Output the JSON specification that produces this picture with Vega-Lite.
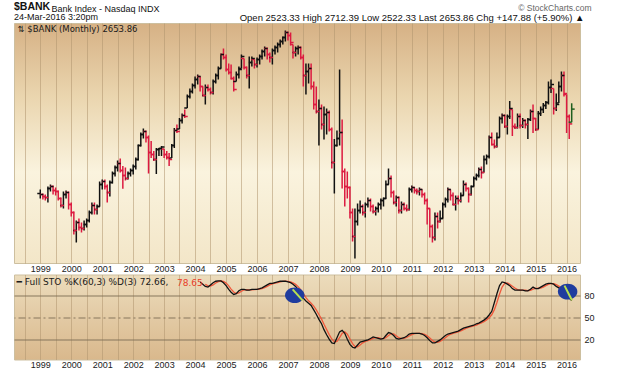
{
"$schema":"https://vega.github.io/schema/vega-lite/v6.json",
"background":"#ffffff",
"padding":{"left":13,"top":1,"right":0,"bottom":0},
"datasets":{
"px":[
{"d":"1999-01-01","o":1810,"h":1850,"l":1760,"c":1800,"dir":"up"},
{"d":"1999-02-01","o":1800,"h":1810,"l":1750,"c":1780,"dir":"down"},
{"d":"1999-03-01","o":1780,"h":1800,"l":1740,"c":1770,"dir":"down"},
{"d":"1999-04-01","o":1770,"h":1880,"l":1720,"c":1860,"dir":"up"},
{"d":"1999-05-01","o":1860,"h":1900,"l":1830,"c":1880,"dir":"up"},
{"d":"1999-06-01","o":1880,"h":1890,"l":1800,"c":1840,"dir":"down"},
{"d":"1999-07-01","o":1840,"h":1870,"l":1790,"c":1830,"dir":"down"},
{"d":"1999-08-01","o":1830,"h":1840,"l":1740,"c":1760,"dir":"down"},
{"d":"1999-09-01","o":1760,"h":1770,"l":1670,"c":1690,"dir":"down"},
{"d":"1999-10-01","o":1690,"h":1830,"l":1660,"c":1800,"dir":"up"},
{"d":"1999-11-01","o":1800,"h":1840,"l":1760,"c":1820,"dir":"up"},
{"d":"1999-12-01","o":1820,"h":1830,"l":1650,"c":1700,"dir":"down"},
{"d":"2000-01-01","o":1700,"h":1720,"l":1580,"c":1620,"dir":"down"},
{"d":"2000-02-01","o":1620,"h":1630,"l":1400,"c":1440,"dir":"down"},
{"d":"2000-03-01","o":1440,"h":1540,"l":1320,"c":1520,"dir":"up"},
{"d":"2000-04-01","o":1520,"h":1560,"l":1440,"c":1470,"dir":"down"},
{"d":"2000-05-01","o":1470,"h":1520,"l":1420,"c":1460,"dir":"down"},
{"d":"2000-06-01","o":1460,"h":1540,"l":1440,"c":1500,"dir":"up"},
{"d":"2000-07-01","o":1500,"h":1560,"l":1470,"c":1540,"dir":"up"},
{"d":"2000-08-01","o":1540,"h":1640,"l":1520,"c":1620,"dir":"up"},
{"d":"2000-09-01","o":1620,"h":1720,"l":1600,"c":1690,"dir":"up"},
{"d":"2000-10-01","o":1690,"h":1720,"l":1600,"c":1650,"dir":"down"},
{"d":"2000-11-01","o":1650,"h":1700,"l":1600,"c":1680,"dir":"up"},
{"d":"2000-12-01","o":1680,"h":1930,"l":1680,"c":1900,"dir":"up"},
{"d":"2001-01-01","o":1900,"h":1950,"l":1850,"c":1930,"dir":"up"},
{"d":"2001-02-01","o":1930,"h":1950,"l":1850,"c":1880,"dir":"down"},
{"d":"2001-03-01","o":1880,"h":1900,"l":1720,"c":1820,"dir":"down"},
{"d":"2001-04-01","o":1820,"h":1940,"l":1780,"c":1920,"dir":"up"},
{"d":"2001-05-01","o":1920,"h":2030,"l":1910,"c":2010,"dir":"up"},
{"d":"2001-06-01","o":2010,"h":2090,"l":1980,"c":2070,"dir":"up"},
{"d":"2001-07-01","o":2070,"h":2140,"l":2030,"c":2110,"dir":"up"},
{"d":"2001-08-01","o":2110,"h":2160,"l":2020,"c":2040,"dir":"down"},
{"d":"2001-09-01","o":2040,"h":2085,"l":1857,"c":1990,"dir":"down"},
{"d":"2001-10-01","o":1990,"h":2070,"l":1940,"c":1960,"dir":"down"},
{"d":"2001-11-01","o":1960,"h":2030,"l":1950,"c":2010,"dir":"up"},
{"d":"2001-12-01","o":2010,"h":2060,"l":1980,"c":2040,"dir":"up"},
{"d":"2002-01-01","o":2040,"h":2100,"l":2000,"c":2080,"dir":"up"},
{"d":"2002-02-01","o":2080,"h":2170,"l":2050,"c":2150,"dir":"up"},
{"d":"2002-03-01","o":2150,"h":2300,"l":2140,"c":2290,"dir":"up"},
{"d":"2002-04-01","o":2290,"h":2420,"l":2280,"c":2400,"dir":"up"},
{"d":"2002-05-01","o":2400,"h":2460,"l":2360,"c":2430,"dir":"up"},
{"d":"2002-06-01","o":2430,"h":2440,"l":2320,"c":2370,"dir":"down"},
{"d":"2002-07-01","o":2370,"h":2390,"l":2010,"c":2220,"dir":"down"},
{"d":"2002-08-01","o":2220,"h":2335,"l":2165,"c":2200,"dir":"down"},
{"d":"2002-09-01","o":2200,"h":2235,"l":2135,"c":2150,"dir":"down"},
{"d":"2002-10-01","o":2150,"h":2265,"l":2005,"c":2250,"dir":"up"},
{"d":"2002-11-01","o":2250,"h":2265,"l":2185,"c":2260,"dir":"up"},
{"d":"2002-12-01","o":2260,"h":2285,"l":2185,"c":2275,"dir":"up"},
{"d":"2003-01-01","o":2255,"h":2255,"l":2165,"c":2200,"dir":"down"},
{"d":"2003-02-01","o":2200,"h":2235,"l":2150,"c":2170,"dir":"down"},
{"d":"2003-03-01","o":2170,"h":2215,"l":2085,"c":2150,"dir":"down"},
{"d":"2003-04-01","o":2165,"h":2305,"l":2165,"c":2290,"dir":"up"},
{"d":"2003-05-01","o":2290,"h":2465,"l":2265,"c":2440,"dir":"up"},
{"d":"2003-06-01","o":2440,"h":2500,"l":2415,"c":2430,"dir":"down"},
{"d":"2003-07-01","o":2455,"h":2565,"l":2455,"c":2540,"dir":"up"},
{"d":"2003-08-01","o":2540,"h":2610,"l":2510,"c":2590,"dir":"up"},
{"d":"2003-09-01","o":2590,"h":2650,"l":2565,"c":2580,"dir":"down"},
{"d":"2003-10-01","o":2665,"h":2800,"l":2665,"c":2780,"dir":"up"},
{"d":"2003-11-01","o":2780,"h":2860,"l":2760,"c":2830,"dir":"up"},
{"d":"2003-12-01","o":2830,"h":2910,"l":2810,"c":2890,"dir":"up"},
{"d":"2004-01-01","o":2890,"h":2980,"l":2860,"c":2950,"dir":"up"},
{"d":"2004-02-01","o":2950,"h":3000,"l":2900,"c":2980,"dir":"up"},
{"d":"2004-03-01","o":2980,"h":2980,"l":2830,"c":2880,"dir":"down"},
{"d":"2004-04-01","o":2880,"h":2880,"l":2780,"c":2790,"dir":"down"},
{"d":"2004-05-01","o":2790,"h":2900,"l":2700,"c":2870,"dir":"up"},
{"d":"2004-06-01","o":2870,"h":2900,"l":2830,"c":2850,"dir":"down"},
{"d":"2004-07-01","o":2850,"h":2870,"l":2800,"c":2820,"dir":"down"},
{"d":"2004-08-01","o":2820,"h":2950,"l":2800,"c":2930,"dir":"up"},
{"d":"2004-09-01","o":2930,"h":3010,"l":2910,"c":2990,"dir":"up"},
{"d":"2004-10-01","o":2990,"h":3080,"l":2950,"c":3060,"dir":"up"},
{"d":"2004-11-01","o":3060,"h":3210,"l":3060,"c":3200,"dir":"up"},
{"d":"2004-12-01","o":3200,"h":3260,"l":3150,"c":3170,"dir":"down"},
{"d":"2005-01-01","o":3170,"h":3200,"l":3030,"c":3050,"dir":"down"},
{"d":"2005-02-01","o":3050,"h":3110,"l":3000,"c":3020,"dir":"down"},
{"d":"2005-03-01","o":3020,"h":3100,"l":2950,"c":2960,"dir":"down"},
{"d":"2005-04-01","o":2960,"h":2980,"l":2830,"c":2850,"dir":"down"},
{"d":"2005-05-01","o":2930,"h":3030,"l":2930,"c":3000,"dir":"up"},
{"d":"2005-06-01","o":3000,"h":3080,"l":2960,"c":3050,"dir":"up"},
{"d":"2005-07-01","o":3060,"h":3200,"l":3060,"c":3180,"dir":"up"},
{"d":"2005-08-01","o":3160,"h":3160,"l":3050,"c":3070,"dir":"down"},
{"d":"2005-09-01","o":3070,"h":3080,"l":2960,"c":2990,"dir":"down"},
{"d":"2005-10-01","o":2990,"h":3180,"l":2860,"c":3120,"dir":"up"},
{"d":"2005-11-01","o":3120,"h":3180,"l":3080,"c":3160,"dir":"up"},
{"d":"2005-12-01","o":3150,"h":3150,"l":3060,"c":3100,"dir":"down"},
{"d":"2006-01-01","o":3100,"h":3170,"l":3070,"c":3150,"dir":"up"},
{"d":"2006-02-01","o":3150,"h":3200,"l":3100,"c":3180,"dir":"up"},
{"d":"2006-03-01","o":3180,"h":3250,"l":3150,"c":3230,"dir":"up"},
{"d":"2006-04-01","o":3230,"h":3280,"l":3180,"c":3260,"dir":"up"},
{"d":"2006-05-01","o":3260,"h":3270,"l":3150,"c":3200,"dir":"down"},
{"d":"2006-06-01","o":3200,"h":3220,"l":3120,"c":3170,"dir":"down"},
{"d":"2006-07-01","o":3170,"h":3260,"l":3100,"c":3240,"dir":"up"},
{"d":"2006-08-01","o":3240,"h":3290,"l":3200,"c":3270,"dir":"up"},
{"d":"2006-09-01","o":3270,"h":3320,"l":3220,"c":3300,"dir":"up"},
{"d":"2006-10-01","o":3300,"h":3350,"l":3270,"c":3330,"dir":"up"},
{"d":"2006-11-01","o":3330,"h":3380,"l":3300,"c":3370,"dir":"up"},
{"d":"2006-12-01","o":3370,"h":3440,"l":3330,"c":3420,"dir":"up"},
{"d":"2007-01-01","o":3420,"h":3430,"l":3340,"c":3390,"dir":"down"},
{"d":"2007-02-01","o":3390,"h":3420,"l":3290,"c":3320,"dir":"down"},
{"d":"2007-03-01","o":3300,"h":3300,"l":3160,"c":3220,"dir":"down"},
{"d":"2007-04-01","o":3220,"h":3280,"l":3180,"c":3260,"dir":"up"},
{"d":"2007-05-01","o":3260,"h":3290,"l":3200,"c":3270,"dir":"up"},
{"d":"2007-06-01","o":3270,"h":3280,"l":3150,"c":3170,"dir":"down"},
{"d":"2007-07-01","o":3170,"h":3200,"l":2880,"c":2990,"dir":"down"},
{"d":"2007-08-01","o":2990,"h":3110,"l":2800,"c":3030,"dir":"up"},
{"d":"2007-09-01","o":3030,"h":3110,"l":2910,"c":3060,"dir":"up"},
{"d":"2007-10-01","o":3060,"h":3110,"l":2850,"c":2880,"dir":"down"},
{"d":"2007-11-01","o":2880,"h":2930,"l":2650,"c":2700,"dir":"down"},
{"d":"2007-12-01","o":2700,"h":2880,"l":2610,"c":2630,"dir":"down"},
{"d":"2008-01-01","o":2630,"h":2750,"l":2290,"c":2660,"dir":"up"},
{"d":"2008-02-01","o":2660,"h":2700,"l":2450,"c":2500,"dir":"down"},
{"d":"2008-03-01","o":2500,"h":2680,"l":2350,"c":2600,"dir":"up"},
{"d":"2008-04-01","o":2600,"h":2660,"l":2400,"c":2620,"dir":"up"},
{"d":"2008-05-01","o":2620,"h":2640,"l":2430,"c":2450,"dir":"down"},
{"d":"2008-06-01","o":2450,"h":2470,"l":2060,"c":2120,"dir":"down"},
{"d":"2008-07-01","o":2120,"h":2355,"l":1810,"c":2290,"dir":"up"},
{"d":"2008-08-01","o":2290,"h":2440,"l":2280,"c":2360,"dir":"up"},
{"d":"2008-09-01","o":2360,"h":3050,"l":2290,"c":2420,"dir":"up"},
{"d":"2008-10-01","o":2420,"h":2550,"l":1860,"c":2030,"dir":"down"},
{"d":"2008-11-01","o":2030,"h":2060,"l":1680,"c":1880,"dir":"down"},
{"d":"2008-12-01","o":1880,"h":2030,"l":1760,"c":1870,"dir":"down"},
{"d":"2009-01-01","o":1870,"h":1880,"l":1560,"c":1620,"dir":"down"},
{"d":"2009-02-01","o":1620,"h":1660,"l":1330,"c":1380,"dir":"down"},
{"d":"2009-03-01","o":1380,"h":1660,"l":1160,"c":1530,"dir":"up"},
{"d":"2009-04-01","o":1530,"h":1710,"l":1490,"c":1640,"dir":"up"},
{"d":"2009-05-01","o":1640,"h":1740,"l":1610,"c":1680,"dir":"up"},
{"d":"2009-06-01","o":1680,"h":1700,"l":1590,"c":1620,"dir":"down"},
{"d":"2009-07-01","o":1620,"h":1720,"l":1570,"c":1700,"dir":"up"},
{"d":"2009-08-01","o":1700,"h":1770,"l":1670,"c":1740,"dir":"up"},
{"d":"2009-09-01","o":1740,"h":1760,"l":1630,"c":1680,"dir":"down"},
{"d":"2009-10-01","o":1680,"h":1700,"l":1610,"c":1630,"dir":"down"},
{"d":"2009-11-01","o":1630,"h":1680,"l":1590,"c":1660,"dir":"up"},
{"d":"2009-12-01","o":1660,"h":1720,"l":1620,"c":1700,"dir":"up"},
{"d":"2010-01-01","o":1700,"h":1760,"l":1650,"c":1740,"dir":"up"},
{"d":"2010-02-01","o":1740,"h":1770,"l":1680,"c":1760,"dir":"up"},
{"d":"2010-03-01","o":1760,"h":1940,"l":1760,"c":1900,"dir":"up"},
{"d":"2010-04-01","o":1900,"h":2060,"l":1900,"c":1960,"dir":"up"},
{"d":"2010-05-01","o":1960,"h":1990,"l":1770,"c":1820,"dir":"down"},
{"d":"2010-06-01","o":1820,"h":1840,"l":1700,"c":1720,"dir":"down"},
{"d":"2010-07-01","o":1720,"h":1790,"l":1680,"c":1770,"dir":"up"},
{"d":"2010-08-01","o":1770,"h":1780,"l":1610,"c":1640,"dir":"down"},
{"d":"2010-09-01","o":1640,"h":1730,"l":1610,"c":1700,"dir":"up"},
{"d":"2010-10-01","o":1700,"h":1720,"l":1640,"c":1660,"dir":"down"},
{"d":"2010-11-01","o":1660,"h":1700,"l":1630,"c":1650,"dir":"down"},
{"d":"2010-12-01","o":1650,"h":1870,"l":1640,"c":1850,"dir":"up"},
{"d":"2011-01-01","o":1850,"h":1890,"l":1820,"c":1870,"dir":"up"},
{"d":"2011-02-01","o":1870,"h":1870,"l":1810,"c":1840,"dir":"down"},
{"d":"2011-03-01","o":1840,"h":1860,"l":1800,"c":1830,"dir":"down"},
{"d":"2011-04-01","o":1830,"h":1870,"l":1790,"c":1850,"dir":"up"},
{"d":"2011-05-01","o":1850,"h":1850,"l":1770,"c":1800,"dir":"down"},
{"d":"2011-06-01","o":1800,"h":1820,"l":1700,"c":1740,"dir":"down"},
{"d":"2011-07-01","o":1740,"h":1760,"l":1500,"c":1660,"dir":"down"},
{"d":"2011-08-01","o":1660,"h":1660,"l":1370,"c":1480,"dir":"down"},
{"d":"2011-09-01","o":1480,"h":1500,"l":1320,"c":1370,"dir":"down"},
{"d":"2011-10-01","o":1370,"h":1620,"l":1340,"c":1580,"dir":"up"},
{"d":"2011-11-01","o":1580,"h":1620,"l":1460,"c":1530,"dir":"down"},
{"d":"2011-12-01","o":1530,"h":1640,"l":1520,"c":1560,"dir":"up"},
{"d":"2012-01-01","o":1560,"h":1720,"l":1560,"c":1700,"dir":"up"},
{"d":"2012-02-01","o":1700,"h":1770,"l":1670,"c":1750,"dir":"up"},
{"d":"2012-03-01","o":1750,"h":1870,"l":1720,"c":1850,"dir":"up"},
{"d":"2012-04-01","o":1850,"h":1850,"l":1740,"c":1790,"dir":"down"},
{"d":"2012-05-01","o":1790,"h":1820,"l":1690,"c":1700,"dir":"down"},
{"d":"2012-06-01","o":1700,"h":1790,"l":1640,"c":1760,"dir":"up"},
{"d":"2012-07-01","o":1760,"h":1790,"l":1700,"c":1740,"dir":"down"},
{"d":"2012-08-01","o":1740,"h":1820,"l":1720,"c":1790,"dir":"up"},
{"d":"2012-09-01","o":1790,"h":1940,"l":1790,"c":1900,"dir":"up"},
{"d":"2012-10-01","o":1900,"h":1920,"l":1830,"c":1860,"dir":"down"},
{"d":"2012-11-01","o":1860,"h":1870,"l":1720,"c":1800,"dir":"down"},
{"d":"2012-12-01","o":1800,"h":1890,"l":1790,"c":1880,"dir":"up"},
{"d":"2013-01-01","o":1880,"h":1980,"l":1880,"c":1960,"dir":"up"},
{"d":"2013-02-01","o":1960,"h":2010,"l":1940,"c":1990,"dir":"up"},
{"d":"2013-03-01","o":1990,"h":2070,"l":1970,"c":2050,"dir":"up"},
{"d":"2013-04-01","o":2050,"h":2080,"l":1960,"c":2020,"dir":"down"},
{"d":"2013-05-01","o":2020,"h":2190,"l":2020,"c":2150,"dir":"up"},
{"d":"2013-06-01","o":2150,"h":2200,"l":2100,"c":2180,"dir":"up"},
{"d":"2013-07-01","o":2180,"h":2390,"l":2160,"c":2370,"dir":"up"},
{"d":"2013-08-01","o":2370,"h":2420,"l":2290,"c":2300,"dir":"down"},
{"d":"2013-09-01","o":2300,"h":2350,"l":2260,"c":2280,"dir":"down"},
{"d":"2013-10-01","o":2280,"h":2420,"l":2270,"c":2370,"dir":"up"},
{"d":"2013-11-01","o":2370,"h":2580,"l":2370,"c":2560,"dir":"up"},
{"d":"2013-12-01","o":2560,"h":2610,"l":2510,"c":2590,"dir":"up"},
{"d":"2014-01-01","o":2590,"h":2600,"l":2465,"c":2480,"dir":"down"},
{"d":"2014-02-01","o":2480,"h":2600,"l":2400,"c":2580,"dir":"up"},
{"d":"2014-03-01","o":2580,"h":2735,"l":2555,"c":2660,"dir":"up"},
{"d":"2014-04-01","o":2650,"h":2650,"l":2385,"c":2480,"dir":"down"},
{"d":"2014-05-01","o":2480,"h":2510,"l":2455,"c":2470,"dir":"down"},
{"d":"2014-06-01","o":2470,"h":2610,"l":2460,"c":2580,"dir":"up"},
{"d":"2014-07-01","o":2580,"h":2610,"l":2460,"c":2490,"dir":"down"},
{"d":"2014-08-01","o":2490,"h":2565,"l":2465,"c":2540,"dir":"up"},
{"d":"2014-09-01","o":2540,"h":2550,"l":2460,"c":2500,"dir":"down"},
{"d":"2014-10-01","o":2500,"h":2565,"l":2355,"c":2550,"dir":"up"},
{"d":"2014-11-01","o":2550,"h":2650,"l":2535,"c":2630,"dir":"up"},
{"d":"2014-12-01","o":2630,"h":2700,"l":2415,"c":2560,"dir":"down"},
{"d":"2015-01-01","o":2560,"h":2565,"l":2435,"c":2450,"dir":"down"},
{"d":"2015-02-01","o":2450,"h":2635,"l":2450,"c":2610,"dir":"up"},
{"d":"2015-03-01","o":2610,"h":2680,"l":2585,"c":2650,"dir":"up"},
{"d":"2015-04-01","o":2650,"h":2715,"l":2615,"c":2690,"dir":"up"},
{"d":"2015-05-01","o":2690,"h":2735,"l":2655,"c":2720,"dir":"up"},
{"d":"2015-06-01","o":2720,"h":2930,"l":2700,"c":2870,"dir":"up"},
{"d":"2015-07-01","o":2870,"h":2950,"l":2815,"c":2900,"dir":"up"},
{"d":"2015-08-01","o":2860,"h":2860,"l":2600,"c":2660,"dir":"down"},
{"d":"2015-09-01","o":2660,"h":2810,"l":2635,"c":2700,"dir":"up"},
{"d":"2015-10-01","o":2715,"h":2930,"l":2715,"c":2880,"dir":"up"},
{"d":"2015-11-01","o":2880,"h":3030,"l":2830,"c":2990,"dir":"up"},
{"d":"2015-12-01","o":2990,"h":3030,"l":2780,"c":2810,"dir":"down"},
{"d":"2016-01-01","o":2800,"h":2800,"l":2415,"c":2580,"dir":"down"},
{"d":"2016-02-01","o":2580,"h":2600,"l":2355,"c":2506,"dir":"down"},
{"d":"2016-03-01","o":2523.33,"h":2712.39,"l":2522.33,"c":2653.86,"dir":"last"}
],
"sto":[
{"d":"2004-03-01","k":98,"dd":null},
{"d":"2004-04-01","k":95,"dd":null},
{"d":"2004-05-01","k":92,"dd":95},
{"d":"2004-06-01","k":91,"dd":92.7},
{"d":"2004-07-01","k":94,"dd":92.3},
{"d":"2004-08-01","k":97,"dd":94},
{"d":"2004-09-01","k":99,"dd":96.7},
{"d":"2004-10-01","k":99.5,"dd":98.5},
{"d":"2004-11-01","k":99.5,"dd":99.3},
{"d":"2004-12-01","k":97,"dd":98.7},
{"d":"2005-01-01","k":93,"dd":96.5},
{"d":"2005-02-01","k":88,"dd":92.7},
{"d":"2005-03-01","k":84,"dd":88.3},
{"d":"2005-04-01","k":81,"dd":84.3},
{"d":"2005-05-01","k":82,"dd":82.3},
{"d":"2005-06-01","k":86,"dd":83},
{"d":"2005-07-01","k":88,"dd":85.3},
{"d":"2005-08-01","k":88,"dd":87.3},
{"d":"2005-09-01","k":87,"dd":87.7},
{"d":"2005-10-01","k":87,"dd":87.3},
{"d":"2005-11-01","k":88,"dd":87.3},
{"d":"2005-12-01","k":88,"dd":87.7},
{"d":"2006-01-01","k":88,"dd":88},
{"d":"2006-02-01","k":89,"dd":88.3},
{"d":"2006-03-01","k":90,"dd":89},
{"d":"2006-04-01","k":92,"dd":90.3},
{"d":"2006-05-01","k":94,"dd":92},
{"d":"2006-06-01","k":96,"dd":94},
{"d":"2006-07-01","k":96,"dd":95.3},
{"d":"2006-08-01","k":97,"dd":96.3},
{"d":"2006-09-01","k":98,"dd":97},
{"d":"2006-10-01","k":99,"dd":98},
{"d":"2006-11-01","k":99,"dd":98.7},
{"d":"2006-12-01","k":99,"dd":99},
{"d":"2007-01-01","k":98,"dd":98.7},
{"d":"2007-02-01","k":97,"dd":98},
{"d":"2007-03-01","k":95,"dd":96.7},
{"d":"2007-04-01","k":92,"dd":94.7},
{"d":"2007-05-01","k":88,"dd":91.7},
{"d":"2007-06-01","k":82,"dd":87.3},
{"d":"2007-07-01","k":76,"dd":82},
{"d":"2007-08-01","k":72,"dd":76.7},
{"d":"2007-09-01","k":69,"dd":72.3},
{"d":"2007-10-01","k":66,"dd":69},
{"d":"2007-11-01","k":60,"dd":65},
{"d":"2007-12-01","k":54,"dd":60},
{"d":"2008-01-01","k":47,"dd":53.7},
{"d":"2008-02-01","k":41,"dd":47.3},
{"d":"2008-03-01","k":33,"dd":40.3},
{"d":"2008-04-01","k":26,"dd":33.3},
{"d":"2008-05-01","k":20,"dd":26.3},
{"d":"2008-06-01","k":15,"dd":20.3},
{"d":"2008-07-01","k":14,"dd":16.3},
{"d":"2008-08-01","k":22,"dd":17},
{"d":"2008-09-01","k":30,"dd":22},
{"d":"2008-10-01","k":32,"dd":28},
{"d":"2008-11-01","k":28,"dd":30},
{"d":"2008-12-01","k":20,"dd":26.7},
{"d":"2009-01-01","k":13,"dd":20.3},
{"d":"2009-02-01","k":9,"dd":14},
{"d":"2009-03-01","k":8,"dd":10},
{"d":"2009-04-01","k":12,"dd":9.7},
{"d":"2009-05-01","k":16,"dd":12},
{"d":"2009-06-01","k":17,"dd":15},
{"d":"2009-07-01","k":18,"dd":17},
{"d":"2009-08-01","k":19,"dd":18},
{"d":"2009-09-01","k":21,"dd":19.3},
{"d":"2009-10-01","k":23,"dd":21},
{"d":"2009-11-01","k":22,"dd":22},
{"d":"2009-12-01","k":21,"dd":22},
{"d":"2010-01-01","k":20,"dd":21},
{"d":"2010-02-01","k":21,"dd":20.7},
{"d":"2010-03-01","k":25,"dd":22},
{"d":"2010-04-01","k":29,"dd":25},
{"d":"2010-05-01","k":28,"dd":27.3},
{"d":"2010-06-01","k":25,"dd":27.3},
{"d":"2010-07-01","k":21,"dd":24.7},
{"d":"2010-08-01","k":20,"dd":22},
{"d":"2010-09-01","k":21,"dd":20.7},
{"d":"2010-10-01","k":22,"dd":21},
{"d":"2010-11-01","k":24,"dd":22.3},
{"d":"2010-12-01","k":27,"dd":24.3},
{"d":"2011-01-01","k":28,"dd":26.3},
{"d":"2011-02-01","k":28,"dd":27.7},
{"d":"2011-03-01","k":28,"dd":28},
{"d":"2011-04-01","k":28,"dd":28},
{"d":"2011-05-01","k":27,"dd":27.7},
{"d":"2011-06-01","k":25,"dd":26.7},
{"d":"2011-07-01","k":22,"dd":24.7},
{"d":"2011-08-01","k":18,"dd":21.7},
{"d":"2011-09-01","k":15,"dd":18.3},
{"d":"2011-10-01","k":15,"dd":16},
{"d":"2011-11-01","k":17,"dd":15.7},
{"d":"2011-12-01","k":19,"dd":17},
{"d":"2012-01-01","k":22,"dd":19.3},
{"d":"2012-02-01","k":25,"dd":22},
{"d":"2012-03-01","k":27,"dd":24.7},
{"d":"2012-04-01","k":28,"dd":26.7},
{"d":"2012-05-01","k":29,"dd":28},
{"d":"2012-06-01","k":30,"dd":29},
{"d":"2012-07-01","k":31,"dd":30},
{"d":"2012-08-01","k":33,"dd":31.3},
{"d":"2012-09-01","k":35,"dd":33},
{"d":"2012-10-01","k":36,"dd":34.7},
{"d":"2012-11-01","k":37,"dd":36},
{"d":"2012-12-01","k":38,"dd":37},
{"d":"2013-01-01","k":39,"dd":38},
{"d":"2013-02-01","k":41,"dd":39.3},
{"d":"2013-03-01","k":42,"dd":40.7},
{"d":"2013-04-01","k":44,"dd":42.3},
{"d":"2013-05-01","k":46,"dd":44},
{"d":"2013-06-01","k":49,"dd":46.3},
{"d":"2013-07-01","k":53,"dd":49.3},
{"d":"2013-08-01","k":58,"dd":53.3},
{"d":"2013-09-01","k":70,"dd":60.3},
{"d":"2013-10-01","k":82,"dd":70},
{"d":"2013-11-01","k":93,"dd":81.7},
{"d":"2013-12-01","k":98,"dd":91},
{"d":"2014-01-01","k":97,"dd":96},
{"d":"2014-02-01","k":95,"dd":96.7},
{"d":"2014-03-01","k":93,"dd":95},
{"d":"2014-04-01","k":89,"dd":92.3},
{"d":"2014-05-01","k":87,"dd":89.7},
{"d":"2014-06-01","k":87,"dd":87.7},
{"d":"2014-07-01","k":87,"dd":87},
{"d":"2014-08-01","k":87,"dd":87},
{"d":"2014-09-01","k":86,"dd":86.7},
{"d":"2014-10-01","k":86,"dd":86.3},
{"d":"2014-11-01","k":88,"dd":86.7},
{"d":"2014-12-01","k":91,"dd":88.3},
{"d":"2015-01-01","k":89,"dd":89.3},
{"d":"2015-02-01","k":89,"dd":89.7},
{"d":"2015-03-01","k":91,"dd":89.7},
{"d":"2015-04-01","k":93,"dd":91},
{"d":"2015-05-01","k":95,"dd":93},
{"d":"2015-06-01","k":96,"dd":94.7},
{"d":"2015-07-01","k":96,"dd":95.7},
{"d":"2015-08-01","k":95,"dd":95.7},
{"d":"2015-09-01","k":92,"dd":94.3},
{"d":"2015-10-01","k":90,"dd":92.3},
{"d":"2015-11-01","k":88,"dd":90},
{"d":"2015-12-01","k":91,"dd":89.7},
{"d":"2016-01-01","k":87,"dd":88.7},
{"d":"2016-02-01","k":76.3,"dd":84.8},
{"d":"2016-03-01","k":72.66,"dd":78.65}
],
"ell":[
{"d":"2007-03-22","v":80},
{"d":"2016-01-13","v":84.8}
],
"hl":[
{"d":"2007-02-25","v":88,"g":"a"},
{"d":"2007-06-22","v":73,"g":"a"},
{"d":"2015-12-07","v":93,"g":"b"},
{"d":"2016-03-04","v":73,"g":"b"}
]
},
"vconcat":[
{
"width":566,"height":240,
"view":{"fill":{"gradient":"linear","x1":0,"y1":0,"x2":0,"y2":1,"stops":[{"offset":0,"color":"#d6b185"},{"offset":0.3,"color":"#ead5ae"},{"offset":0.62,"color":"#faf3de"},{"offset":1,"color":"#f3e6c8"}]},"stroke":"#cdbf9f"},
"title":{"text":"$BANK","subtitle":"24-Mar-2016 3:20pm","anchor":"start","frame":"group","offset":1.3,"fontSize":10.5,"fontWeight":"bold","font":"Liberation Sans","color":"#111111","subtitleFontSize":9,"subtitleFont":"Liberation Sans","subtitleColor":"#111111","subtitlePadding":0},
"data":{"name":"px"},
"encoding":{
"x":{"field":"d","type":"temporal","scale":{"type":"utc","nice":false,"domain":[{"year":1998,"month":2,"date":25,"utc":true},{"year":2016,"month":6,"date":7,"utc":true}]},
"axis":{"orient":"bottom","tickCount":{"interval":"month","step":6},"labelExpr":"utcmonth(datum.value)==0 ? utcFormat(datum.value,'%Y') : ''","labelOverlap":false,"labelFlush":false,"labelPadding":1,"labelFontSize":9,"labelColor":"#222222","ticks":false,"domain":false,"grid":true,"gridColor":"#b09670","gridOpacity":0.55,
"title":"⇅ $BANK (Monthly) 2653.86","titleX":3,"titleY":-232,"titleAlign":"left","titleAnchor":"start","titleBaseline":"alphabetic","titleFontSize":8.5,"titleFontWeight":"normal","titleColor":"#1a1a1a","titleFont":"DejaVu Sans"}},
"color":{"field":"dir","type":"nominal","scale":{"domain":["up","down","last"],"range":["#111111","#dc1a40","#1f5f1f"]},"legend":null}
},
"layer":[
{"mark":{"type":"rule","strokeWidth":1.5},
"encoding":{"y":{"field":"l","type":"quantitative","scale":{"domain":[1115,3515],"nice":false,"zero":false},
"axis":{"orient":"right","values":[1200,1300,1400,1500,1600,1700,1800,1900,2000,2100,2200,2300,2400,2500,2600,2700,2800,2900,3000,3100,3200,3300,3400,3500],"format":"d","labelExpr":"datum.value % 200 == 0 ? datum.label : ''","labelOverlap":false,"labelPadding":4,"labelFontSize":9,"labelColor":"#222222","ticks":false,"domain":false,"grid":true,"gridColor":"#b09670","gridOpacity":0.35,"title":null}},
"y2":{"field":"h"}}},
{"mark":{"type":"tick","orient":"horizontal","size":3,"thickness":1.5,"xOffset":-1.5,"opacity":1},
"encoding":{"y":{"field":"o","type":"quantitative","scale":{"domain":[1115,3515],"nice":false,"zero":false},"axis":null}}},
{"mark":{"type":"tick","orient":"horizontal","size":3,"thickness":1.5,"xOffset":1.5,"opacity":1},
"encoding":{"y":{"field":"c","type":"quantitative","scale":{"domain":[1115,3515],"nice":false,"zero":false},"axis":null}}}
]
},
{
"width":566,"height":85,
"view":{"fill":{"gradient":"linear","x1":0,"y1":0,"x2":0,"y2":1,"stops":[{"offset":0,"color":"#ecdcbc"},{"offset":1,"color":"#d9b88c"}]},"stroke":"#cdbf9f"},
"title":{"text":"78.65","orient":"bottom","anchor":"start","frame":"group","offset":-91,"dx":163,"fontSize":9,"font":"DejaVu Sans","fontWeight":"normal","color":"#e8402a"},
"layer":[
{"data":{"name":"sto"},"mark":{"type":"line","color":"#f0583c","strokeWidth":1.3},
"encoding":{
"x":{"field":"d","type":"temporal","scale":{"type":"utc","nice":false,"domain":[{"year":1998,"month":2,"date":25,"utc":true},{"year":2016,"month":6,"date":7,"utc":true}]},
"axis":{"orient":"top","labels":false,"ticks":false,"domain":false,"grid":false,"title":"© StockCharts.com","titleX":577,"titleY":-264,"titleAlign":"right","titleAnchor":"end","titleBaseline":"alphabetic","titleFontSize":8.5,"titleFontWeight":"normal","titleColor":"#666666","titleFont":"Liberation Sans"}},
"y":{"field":"dd","type":"quantitative","scale":{"domain":[-7.7,108.2],"nice":false,"zero":false},
"axis":{"orient":"left","labels":false,"ticks":false,"domain":false,"grid":false,"title":"Bank Index - Nasdaq INDX","titleX":37,"titleY":-263.5,"titleAngle":0,"titleAlign":"left","titleAnchor":"start","titleBaseline":"alphabetic","titleFontSize":9,"titleFontWeight":"normal","titleColor":"#111111","titleFont":"Liberation Sans"}}}},
{"data":{"name":"sto"},"mark":{"type":"line","color":"#111111","strokeWidth":1.3},
"encoding":{
"x":{"field":"d","type":"temporal","scale":{"type":"utc","nice":false,"domain":[{"year":1998,"month":2,"date":25,"utc":true},{"year":2016,"month":6,"date":7,"utc":true}]},
"axis":{"orient":"bottom","tickCount":{"interval":"month","step":6},"labelExpr":"utcmonth(datum.value)==0 ? utcFormat(datum.value,'%Y') : ''","labelOverlap":false,"labelFlush":false,"labelPadding":1,"labelFontSize":9,"labelColor":"#222222","ticks":false,"domain":false,"grid":true,"gridColor":"#b09670","gridOpacity":0.55,
"title":"━ Full STO %K(60,3) %D(3) 72.66,","titleX":2,"titleY":-75.5,"titleAlign":"left","titleAnchor":"start","titleBaseline":"alphabetic","titleFontSize":9,"titleFontWeight":"normal","titleColor":"#1a1a1a","titleFont":"DejaVu Sans"}},
"y":{"field":"k","type":"quantitative","scale":{"domain":[-7.7,108.2],"nice":false,"zero":false},
"axis":{"orient":"right","values":[20,50,80],"labelPadding":4,"labelFontSize":9,"labelColor":"#222222","ticks":false,"domain":false,"grid":true,"gridColor":"#7d6d55","gridOpacity":0.9,"gridDash":{"condition":{"test":"datum.value === 50","value":[7,3,2,3]},"value":[]},
"title":"Open 2523.33  High 2712.39  Low 2522.33  Last 2653.86  Chg +147.88 (+5.90%) ▲","titleX":4,"titleY":-254,"titleAngle":0,"titleAlign":"right","titleAnchor":"end","titleBaseline":"alphabetic","titleFontSize":9.5,"titleFontWeight":"normal","titleColor":"#111111","titleFont":"Liberation Sans"}}}},
{"data":{"name":"ell"},"mark":{"type":"point","shape":"M-1,0A1,0.8 0 1,1 1,0A1,0.8 0 1,1 -1,0Z","size":380,"filled":true,"color":"#1f3c9e","opacity":1,"strokeWidth":0},
"encoding":{
"x":{"field":"d","type":"temporal","scale":{"type":"utc","nice":false,"domain":[{"year":1998,"month":2,"date":25,"utc":true},{"year":2016,"month":6,"date":7,"utc":true}]},"axis":null},
"y":{"field":"v","type":"quantitative","scale":{"domain":[-7.7,108.2],"nice":false,"zero":false},"axis":null}}},
{"data":{"name":"hl"},"mark":{"type":"line","color":"#b8e050","strokeWidth":2},
"encoding":{
"x":{"field":"d","type":"temporal","scale":{"type":"utc","nice":false,"domain":[{"year":1998,"month":2,"date":25,"utc":true},{"year":2016,"month":6,"date":7,"utc":true}]},"axis":null},
"y":{"field":"v","type":"quantitative","scale":{"domain":[-7.7,108.2],"nice":false,"zero":false},"axis":null},
"detail":{"field":"g"}}}
],
"resolve":{"axis":{"x":"independent","y":"independent"}}
}
],
"spacing":11.5,
"bounds":"flush",
"config":{"font":"Liberation Sans","axis":{"labelFont":"Liberation Sans"}}
}
